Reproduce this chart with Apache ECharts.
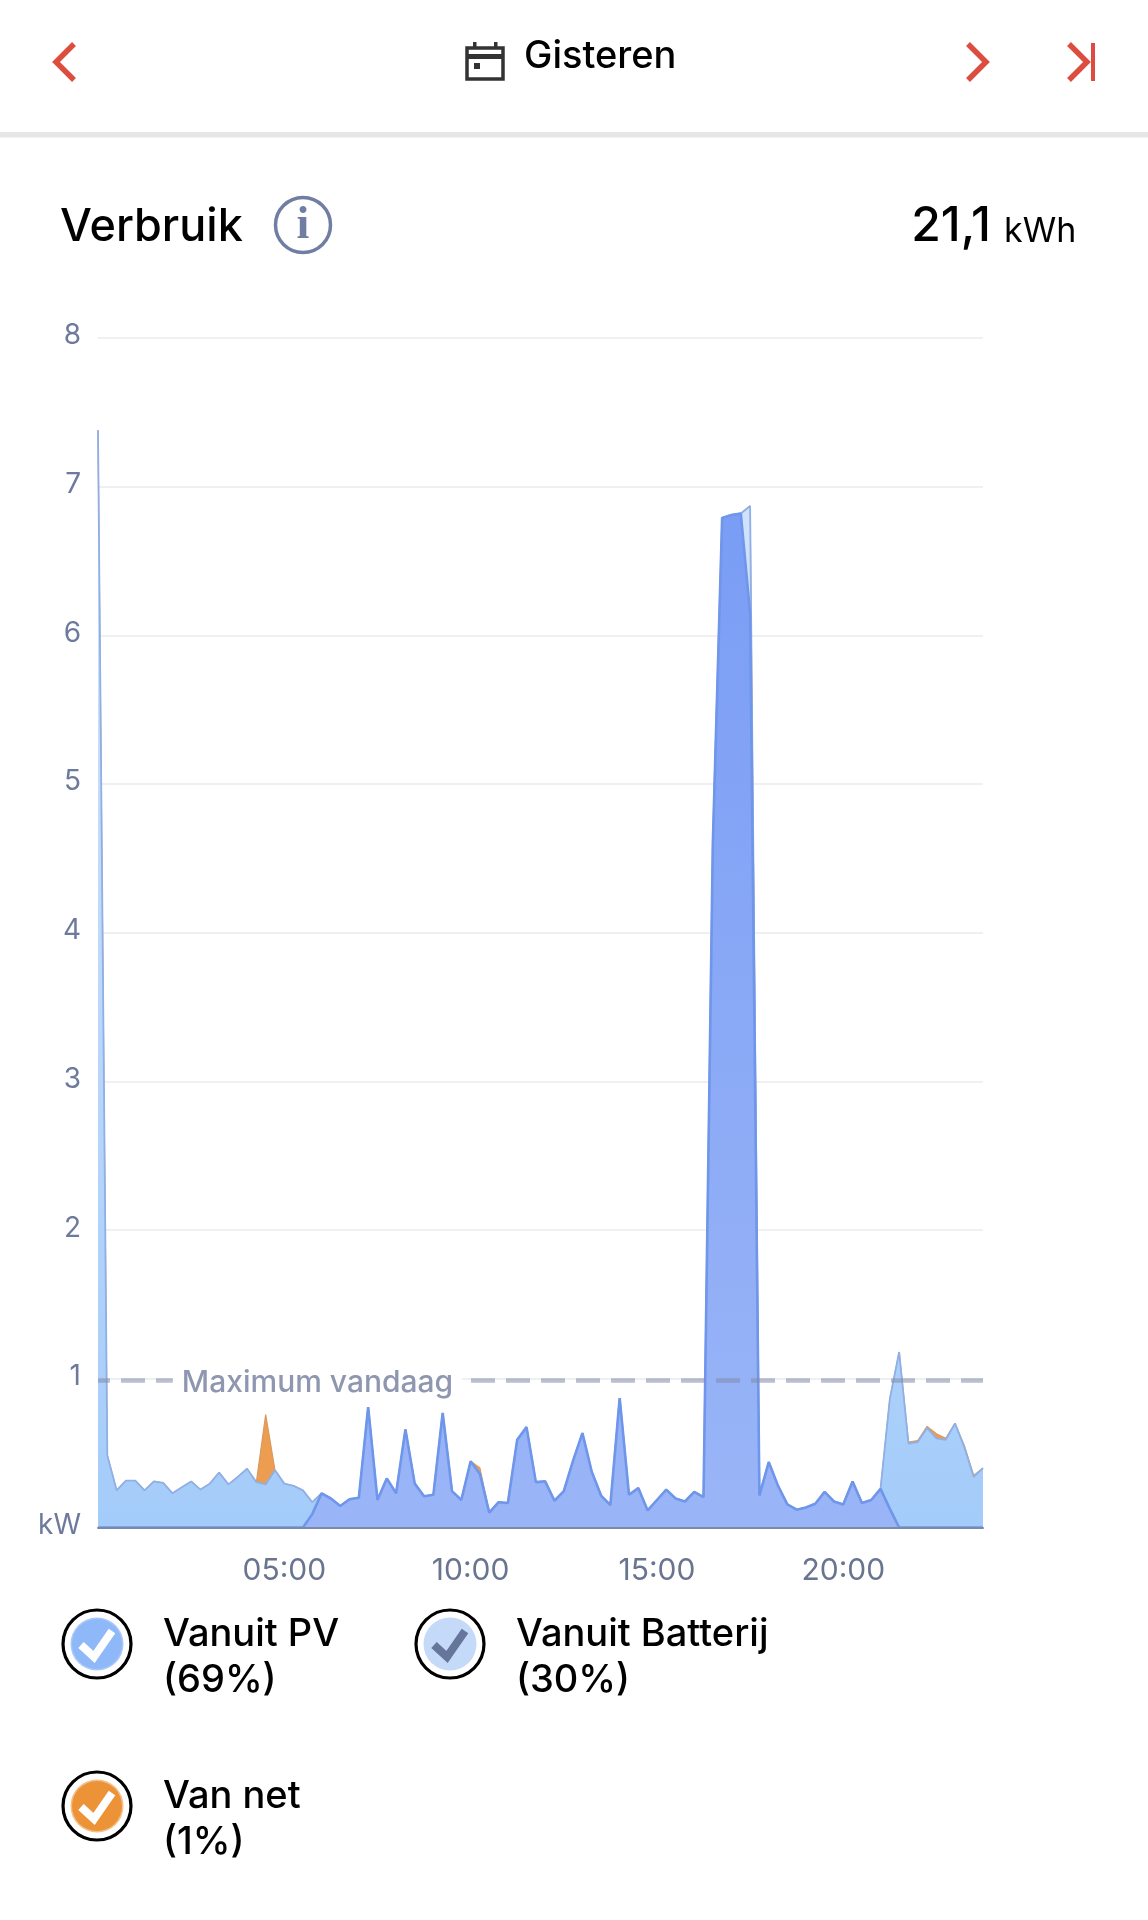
<!DOCTYPE html>
<html><head><meta charset="utf-8">
<style>html,body{margin:0;padding:0;background:#fff}#c{width:1148px;height:1920px}</style>
<script src="https://cdn.jsdelivr.net/npm/echarts@6/dist/echarts.min.js"></script>
</head><body><div id="c"></div>
<script>
const slots = ["00:00","00:15","00:30","00:45","01:00","01:15","01:30","01:45","02:00","02:15","02:30","02:45","03:00","03:15","03:30","03:45","04:00","04:15","04:30","04:45","05:00","05:15","05:30","05:45","06:00","06:15","06:30","06:45","07:00","07:15","07:30","07:45","08:00","08:15","08:30","08:45","09:00","09:15","09:30","09:45","10:00","10:15","10:30","10:45","11:00","11:15","11:30","11:45","12:00","12:15","12:30","12:45","13:00","13:15","13:30","13:45","14:00","14:15","14:30","14:45","15:00","15:15","15:30","15:45","16:00","16:15","16:30","16:45","17:00","17:15","17:30","17:45","18:00","18:15","18:30","18:45","19:00","19:15","19:30","19:45","20:00","20:15","20:30","20:45","21:00","21:15","21:30","21:45","22:00","22:15","22:30","22:45","23:00","23:15","23:30","23:45"];
const vanuitPV = [0,0,0,0,0,0,0,0,0,0,0,0,0,0,0,0,0,0,0,0,0,0,0,.09,.23,.195,.145,.19,.2,.81,.185,.33,.23,.66,.295,.21,.22,.77,.245,.185,.445,.36,.1,.17,.165,.59,.675,.305,.31,.18,.245,.45,.635,.375,.215,.15,.87,.22,.265,.115,.185,.255,.195,.175,.24,.205,4.6,6.79,6.81,6.82,6.15,.215,.44,.28,.155,.12,.135,.16,.24,.175,.155,.31,.165,.185,.26,.125,0,0,0,0,0,0,0,0,0,0];
const vanuitBatterij = [7.38,.485,.25,.315,.315,.25,.31,.3,.23,.27,.31,.255,.295,.37,.29,.34,.395,.305,.29,.385,.295,.28,.25,.08,0,0,0,0,0,0,0,0,0,0,0,0,0,0,0,0,0,0,0,0,0,0,0,0,0,0,0,0,0,0,0,0,0,0,0,0,0,0,0,0,0,0,0,0,0,0,.72,0,0,0,0,0,0,0,0,0,0,0,0,0,0,.74,1.18,.565,.575,.67,.6,.59,.7,.54,.34,.4];
const vanNet = [0,0,0,0,0,0,0,0,0,0,0,0,0,0,0,0,0,0,.47,0,0,0,0,0,0,0,0,0,0,0,0,0,0,0,0,0,0,0,0,0,0,.04,0,0,0,0,0,0,0,0,0,0,0,0,0,0,0,0,0,0,0,0,0,0,0,0,0,0,0,0,0,0,0,0,0,0,0,0,0,0,0,0,0,0,0,0,0,.01,.01,.01,.03,.01,0,.01,.01,0];
const maximumVandaag = 0.99;
const legendItems = [["Vanuit PV","(69%)"],["Vanuit Batterij","(30%)"],["Van net","(1%)"]];
const title = "Verbruik", dayLabel = "Gisteren", totalValue = "21,1", totalUnit = "kWh", maxLabel = "Maximum vandaag";

const F = 'Inter, Roboto, sans-serif';
const red = '#dc4d40', slate = '#707ea3';
const chev = (pts, x) => ({type:'polyline',shape:{points:pts.map(p=>[p[0]+x,p[1]])},style:{fill:'none',stroke:red,lineWidth:5.5,lineJoin:'miter'}});
const txt = (x,base,t,size,weight,fill,align,fam) => ({type:'text',x,y:base-0.84*size,style:{text:t,font:(weight||400)+' '+size+'px '+(fam||F),fill:fill||'#000',align:align||'left',verticalAlign:'top'}});
function legendIcon(cx,cy,fill,check,ring){
  return [
    {type:'circle',shape:{cx,cy,r:34},style:{fill:'#fff',stroke:'#000',lineWidth:3.2}},
    {type:'circle',shape:{cx,cy,r:26.5},style:{fill:ring||fill}},
    {type:'circle',shape:{cx,cy,r:25},style:{fill}},
    {type:'polyline',shape:{points:[[cx-16,cy+1],[cx-3,cy+13],[cx+15,cy-13]]},style:{fill:'none',stroke:check,lineWidth:8}}
  ];
}
const graphics = [
  {type:'rect',shape:{x:0,y:132,width:1148,height:5.5},style:{fill:'#e6e6e6'}},
  chev([[74,44],[56,62],[74,80]],0),
  chev([[968,44],[986,62],[968,80]],0),
  chev([[968,44],[986,62],[968,80]],101),
  {type:'rect',shape:{x:1091,y:43,width:4,height:38},style:{fill:red}},
  {type:'rect',shape:{x:467,y:48,width:36,height:31},style:{fill:'none',stroke:'#333',lineWidth:3.5}},
  {type:'rect',shape:{x:467,y:54,width:36,height:5},style:{fill:'#333'}},
  {type:'rect',shape:{x:473,y:42,width:3.5,height:7},style:{fill:'#333'}},
  {type:'rect',shape:{x:494,y:42,width:3.5,height:7},style:{fill:'#333'}},
  {type:'rect',shape:{x:474,y:63,width:6,height:6},style:{fill:'#333'}},
  txt(524,69,dayLabel,38,500),
  txt(60,243,title,45,500),
  {type:'circle',shape:{cx:303,cy:225,r:27.5},style:{fill:'none',stroke:slate,lineWidth:3.5}},
  txt(303,242,'i',46,700,slate,'center','"Liberation Serif", serif'),
  txt(991,243,totalValue,48,500,'#000','right'),
  txt(1004,243,totalUnit,34,400),
  ...legendIcon(97,1644,'#8fb8f8','#fff','#a9c8f9'),
  ...legendIcon(450,1644,'#c5daf9','#66759a'),
  ...legendIcon(97,1806,'#ec9338','#fff','#f4c08a'),
  txt(163,1647,legendItems[0][0],38,500), txt(163,1693,legendItems[0][1],38,500),
  txt(516,1647,legendItems[1][0],38,500), txt(516,1693,legendItems[1][1],38,500),
  txt(163,1809,legendItems[2][0],38,500), txt(163,1855,legendItems[2][1],38,500)
];
const grad = (a,b)=>({type:'linear',x:0,y:0,x2:0,y2:1,colorStops:[{offset:0,color:a},{offset:1,color:b}]});
const chart = echarts.init(document.getElementById('c'),null,{renderer:'canvas'});
chart.setOption({
  animation:false,
  backgroundColor:'#fff',
  graphic:graphics,
  grid:{left:98,right:165,top:338,height:1189.5,containLabel:false},
  xAxis:{type:'category',data:slots,boundaryGap:false,z:5,offset:1,
    axisLine:{show:true,lineStyle:{color:'#7d89a8',width:2}},axisTick:{show:false},
    axisLabel:{interval:(i)=>i>0&&i%20===0,color:'#69748f',fontSize:30,fontFamily:F,margin:27},
    splitLine:{show:false}},
  yAxis:{type:'value',min:0,max:8,interval:1,
    axisLine:{show:false},axisTick:{show:false},
    axisLabel:{color:'#6d7a9b',fontSize:28,fontFamily:F,margin:17,verticalAlign:'bottom',lineHeight:4,formatter:v=>v===0?'kW':String(v)},
    splitLine:{lineStyle:{color:'#eef0f3',width:2}}},
  series:[
    {name:legendItems[0][0],type:'line',stack:'t',data:vanuitPV,symbol:'none',z:4,
      lineStyle:{color:'#6f96ea',width:2.6},areaStyle:{color:grad('#7a9df5','#9ab5f7'),opacity:1}},
    {name:legendItems[1][0],type:'line',stack:'t',data:vanuitBatterij,symbol:'none',z:3,
      lineStyle:{color:'#8fafe6',width:1.8},areaStyle:{color:grad('#d4e4fb','#a4ccfa'),opacity:1}},
    {name:legendItems[2][0],type:'line',stack:'t',data:vanNet,symbol:'none',z:2,
      lineStyle:{color:'#d9995a',width:1.2},areaStyle:{color:'#ec9d52',opacity:1},
      markLine:{silent:true,symbol:'none',z:6,
        data:[{yAxis:maximumVandaag}],
        lineStyle:{color:'rgba(130,138,168,0.55)',type:[24,11],dashOffset:12,width:4.5},
        label:{show:true,position:'middle',distance:0,formatter:maxLabel,offset:[-223,3],verticalAlign:'middle',color:'#8f97b0',fontSize:30,fontWeight:500,fontFamily:F,backgroundColor:'#fff',padding:[2,9,2,9]}}}
  ]
});
</script></body></html>
